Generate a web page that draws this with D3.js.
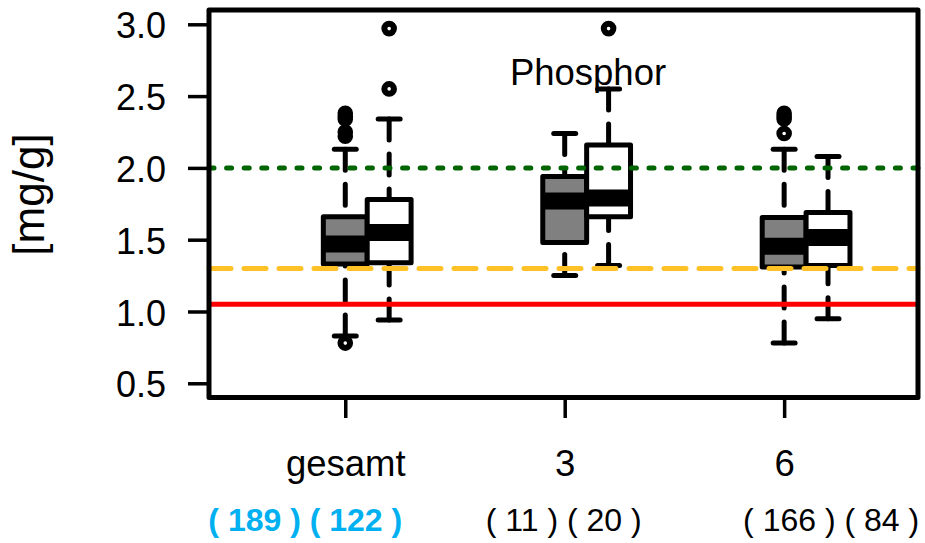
<!DOCTYPE html>
<html>
<head>
<meta charset="utf-8">
<script src="https://cdn.jsdelivr.net/npm/d3@7"></script>
<style>
  body { margin: 0; background: #fff; }
  svg { display: block; font-family: "Liberation Sans", Arial, Helvetica, sans-serif; }
</style>
</head>
<body>
<script>
// Phosphor content [mg/g] per group, two boxplot series (grey / white)
const groups = ["gesamt", "3", "6"];

const grayLow  = [0.83, 1.25, 0.78];
const grayQ1   = [1.33, 1.48, 1.31];
const grayMed  = [1.47, 1.77, 1.455];
const grayQ3   = [1.66, 1.94, 1.655];
const grayHigh = [2.13, 2.24, 2.13];
const grayOut  = [[2.38, 2.36, 2.34, 2.25, 2.22, 0.78], [], [2.38, 2.36, 2.34, 2.24]];

const whiteLow  = [0.94, 1.32, 0.95];
const whiteQ1   = [1.34, 1.66, 1.32];
const whiteMed  = [1.55, 1.79, 1.515];
const whiteQ3   = [1.78, 2.16, 1.69];
const whiteHigh = [2.34, 2.55, 2.08];
const whiteOut  = [[2.97, 2.55], [2.97], []];

const nGray  = [189, 11, 166];
const nWhite = [122, 20, 84];

const refValues = [2.0, 1.3, 1.05];
const yTicks = [0.5, 1.0, 1.5, 2.0, 2.5, 3.0];
const title = "Phosphor";
const yTitle = "[mg/g]";

// ---- layout ----
const W = 925, H = 543;
const frame = { left: 209, right: 918, top: 10, bottom: 397.5 };
const boxW = 0.2;

const x = d3.scaleLinear().domain([0.379, 3.61]).range([frame.left, frame.right]);
const y = d3.scaleLinear().domain([0.401, 3.0996]).range([frame.bottom, frame.top]);

const svg = d3.select("body").append("svg").attr("width", W).attr("height", H);

const series = [
  { fill: "#808080", shift: 0,   low: grayLow,  q1: grayQ1,  med: grayMed,  q3: grayQ3,  high: grayHigh,  out: grayOut },
  { fill: "#ffffff", shift: 0.2, low: whiteLow, q1: whiteQ1, med: whiteMed, q3: whiteQ3, high: whiteHigh, out: whiteOut }
];

const plot = svg.append("g");

series.forEach(s => {
  groups.forEach((g, i) => {
    const pos = i + 1 + s.shift;
    const cx = x(pos);
    const x0 = x(pos - boxW / 2), x1 = x(pos + boxW / 2);
    const capHalf = (x1 - x0) / 4;
    const grp = plot.append("g");

    // whiskers (drawn from the whisker end towards the box)
    [[s.high[i], s.q3[i]], [s.low[i], s.q1[i]]].forEach(([a, b]) => {
      grp.append("line")
        .attr("x1", cx).attr("x2", cx)
        .attr("y1", y(a)).attr("y2", y(b))
        .attr("stroke", "#000").attr("stroke-width", 5)
        .attr("stroke-linecap", "round")
        .attr("stroke-dasharray", "21 14");
      grp.append("line")
        .attr("x1", cx - capHalf).attr("x2", cx + capHalf)
        .attr("y1", y(a)).attr("y2", y(a))
        .attr("stroke", "#000").attr("stroke-width", 5)
        .attr("stroke-linecap", "round");
    });

    // box
    grp.append("rect")
      .attr("x", x0).attr("width", x1 - x0)
      .attr("y", y(s.q3[i])).attr("height", y(s.q1[i]) - y(s.q3[i]))
      .attr("fill", s.fill)
      .attr("stroke", "#000").attr("stroke-width", 5)
      .attr("stroke-linejoin", "round");

    // median
    grp.append("line")
      .attr("x1", x0).attr("x2", x1)
      .attr("y1", y(s.med[i])).attr("y2", y(s.med[i]))
      .attr("stroke", "#000").attr("stroke-width", 17);

    // outliers
    grp.selectAll("circle.out").data(s.out[i]).join("circle")
      .attr("class", "out")
      .attr("cx", cx).attr("cy", d => y(d)).attr("r", 4.8)
      .attr("fill", "none").attr("stroke", "#000").attr("stroke-width", 6);
  });
});

// reference lines
const refStyles = [
  { color: "#006400", dash: "5 12.6" },
  { color: "#FFC125", dash: "22 13" },
  { color: "#FF0000", dash: null }
];
refValues.forEach((v, k) => {
  const ln = svg.append("line")
    .attr("x1", frame.left).attr("x2", frame.right)
    .attr("y1", y(v)).attr("y2", y(v))
    .attr("stroke", refStyles[k].color).attr("stroke-width", 5);
  if (refStyles[k].dash) ln.attr("stroke-dasharray", refStyles[k].dash).attr("stroke-linecap", "round");
});

// frame
svg.append("rect")
  .attr("x", frame.left).attr("y", frame.top)
  .attr("width", frame.right - frame.left).attr("height", frame.bottom - frame.top)
  .attr("fill", "none").attr("stroke", "#000").attr("stroke-width", 5)
  .attr("stroke-linejoin", "round");

// y axis
const yAxis = svg.append("g")
  .attr("transform", `translate(${frame.left},0)`)
  .call(d3.axisLeft(y).tickValues(yTicks).tickFormat(d3.format(".1f")).tickSize(21).tickPadding(22));
yAxis.select(".domain").remove();
yAxis.selectAll(".tick line").attr("stroke", "#000").attr("stroke-width", 3.5);
yAxis.selectAll(".tick text")
  .attr("fill", "#000").attr("font-size", 36)
  .attr("font-family", "Liberation Sans, Arial, sans-serif")
  .attr("dy", "0.38em");

// x axis
const xAxis = svg.append("g")
  .attr("transform", `translate(0,${frame.bottom})`)
  .call(d3.axisBottom(x).tickValues([1, 2, 3]).tickFormat((d, i) => groups[i]).tickSize(20.5));
xAxis.select(".domain").remove();
xAxis.selectAll(".tick line").attr("stroke", "#000").attr("stroke-width", 3.5);
xAxis.selectAll(".tick text")
  .attr("fill", "#000").attr("font-size", 36.5)
  .attr("font-family", "Liberation Sans, Arial, sans-serif")
  .attr("y", 78.5).attr("dy", 0);

// sample sizes below each group
const countShift = [-40, -1, 47];
groups.forEach((g, i) => {
  svg.append("text")
    .attr("x", x(i + 1) + countShift[i]).attr("y", 531)
    .attr("text-anchor", "middle")
    .attr("font-size", 32)
    .attr("font-weight", i === 0 ? "bold" : "normal")
    .attr("fill", i === 0 ? "#00B0F0" : "#000")
    .text(`( ${nGray[i]} ) ( ${nWhite[i]} )`);
});

// title inside plot
svg.append("text")
  .attr("x", 588).attr("y", 85)
  .attr("text-anchor", "middle")
  .attr("font-size", 36.5)
  .text(title);

// y axis title
svg.append("text")
  .attr("transform", `translate(44,194.5) rotate(-90)`)
  .attr("text-anchor", "middle")
  .attr("font-size", 44)
  .text(yTitle);
</script>
</body>
</html>
